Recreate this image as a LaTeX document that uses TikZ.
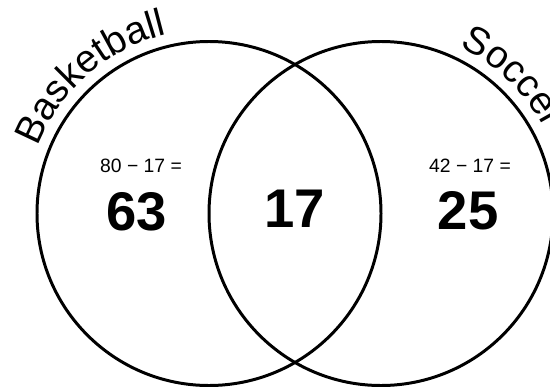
\documentclass[tikz,border=0pt]{standalone}
\usepackage{fontspec}
\setmainfont{Liberation Sans}
\usetikzlibrary{decorations.text}

\newcommand{\setlabelfont}{\fontsize{22}{26}\selectfont}

\tikzset{
  setcircle/.style={draw=black, line width=1.7pt},
  bignum/.style={font=\fontsize{31}{37}\selectfont\bfseries, inner sep=0pt},
  sumtext/.style={font=\fontsize{11}{13}\selectfont, inner sep=0pt},
  setlabel/.style={decorate, decoration={text along path, text align=center, text={|\setlabelfont|#1}}}
}

\begin{document}
\begin{tikzpicture}[x=0.02cm, y=0.02cm]
\useasboundingbox (0,0) rectangle (550,386);

% the two sets
\coordinate (bcenter) at (209,172.5);
\coordinate (scenter) at (381,172.5);
\draw[setcircle] (bcenter) circle[radius=172];
\draw[setcircle] (scenter) circle[radius=172];

% names along the rims
\path[setlabel=Basketball] (bcenter) ++(166:184) arc[start angle=166, end angle=96, radius=184];
\path[setlabel=Soccer] (scenter) ++(76:184) arc[start angle=76, end angle=16, radius=184];

% counts
\node[sumtext] (bsum) at (141,220) {80 − 17 =};
\node[bignum] (bonly) at (137,174) {63};
\node[bignum] (both) at (295,177) {17};
\node[sumtext] (ssum) at (470,220) {42 − 17 =};
\node[bignum] (sonly) at (468,175) {25};
\end{tikzpicture}
\end{document}
